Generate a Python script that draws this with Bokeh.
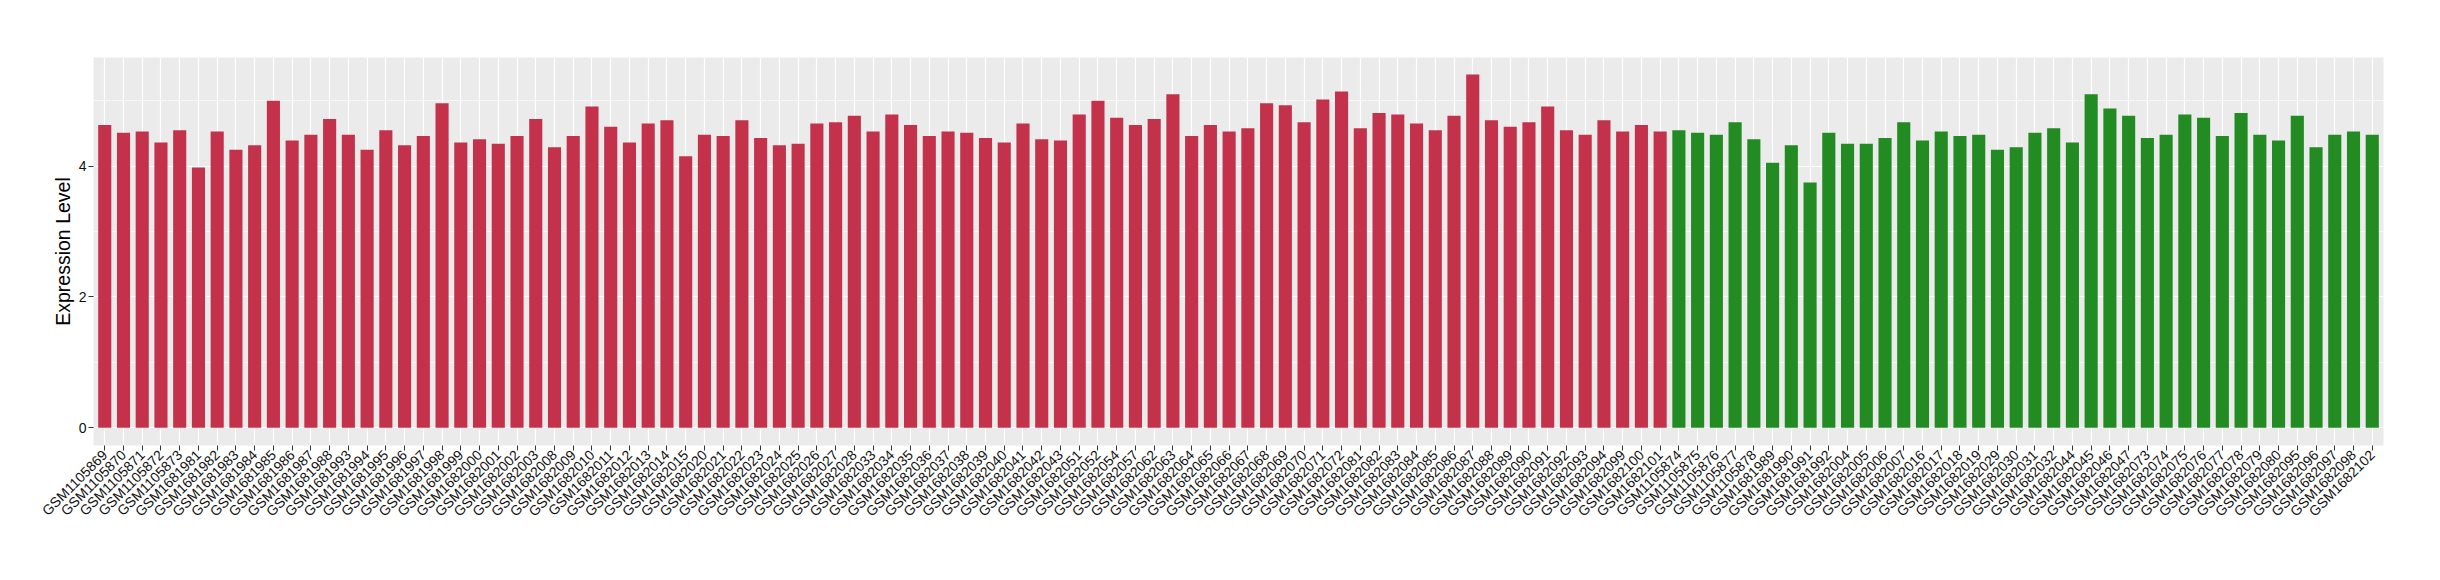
import math
from bokeh.plotting import figure
from bokeh.models import Range1d, FixedTicker, ColumnDataSource
from bokeh.embed import file_html
from bokeh.resources import INLINE

red_samples = [
    "GSM1105869", "GSM1105870", "GSM1105871", "GSM1105872", "GSM1105873",
    "GSM1681981", "GSM1681982", "GSM1681983", "GSM1681984", "GSM1681985",
    "GSM1681986", "GSM1681987", "GSM1681988", "GSM1681993", "GSM1681994",
    "GSM1681995", "GSM1681996", "GSM1681997", "GSM1681998", "GSM1681999",
    "GSM1682000", "GSM1682001", "GSM1682002", "GSM1682003", "GSM1682008",
    "GSM1682009", "GSM1682010", "GSM1682011", "GSM1682012", "GSM1682013",
    "GSM1682014", "GSM1682015", "GSM1682020", "GSM1682021", "GSM1682022",
    "GSM1682023", "GSM1682024", "GSM1682025", "GSM1682026", "GSM1682027",
    "GSM1682028", "GSM1682033", "GSM1682034", "GSM1682035", "GSM1682036",
    "GSM1682037", "GSM1682038", "GSM1682039", "GSM1682040", "GSM1682041",
    "GSM1682042", "GSM1682043", "GSM1682051", "GSM1682052", "GSM1682054",
    "GSM1682057", "GSM1682062", "GSM1682063", "GSM1682064", "GSM1682065",
    "GSM1682066", "GSM1682067", "GSM1682068", "GSM1682069", "GSM1682070",
    "GSM1682071", "GSM1682072", "GSM1682081", "GSM1682082", "GSM1682083",
    "GSM1682084", "GSM1682085", "GSM1682086", "GSM1682087", "GSM1682088",
    "GSM1682089", "GSM1682090", "GSM1682091", "GSM1682092", "GSM1682093",
    "GSM1682094", "GSM1682099", "GSM1682100", "GSM1682101",
]
red_values = [
    4.63, 4.51, 4.53, 4.36, 4.55, 3.98, 4.53, 4.25, 4.32, 5.00,
    4.39, 4.48, 4.72, 4.48, 4.25, 4.55, 4.32, 4.46, 4.96, 4.36,
    4.41, 4.34, 4.46, 4.72, 4.29, 4.46, 4.91, 4.60, 4.36, 4.65,
    4.70, 4.15, 4.48, 4.46, 4.70, 4.43, 4.32, 4.34, 4.65, 4.67,
    4.77, 4.53, 4.79, 4.63, 4.46, 4.53, 4.51, 4.43, 4.36, 4.65,
    4.41, 4.39, 4.79, 5.00, 4.74, 4.63, 4.72, 5.10, 4.46, 4.63,
    4.53, 4.58, 4.96, 4.93, 4.67, 5.02, 5.14, 4.58, 4.81, 4.79,
    4.65, 4.55, 4.77, 5.40, 4.70, 4.60, 4.67, 4.91, 4.55, 4.48,
    4.70, 4.53, 4.63, 4.53,
]

green_samples = [
    "GSM1105874", "GSM1105875", "GSM1105876", "GSM1105877", "GSM1105878",
    "GSM1681989", "GSM1681990", "GSM1681991", "GSM1681992", "GSM1682004",
    "GSM1682005", "GSM1682006", "GSM1682007", "GSM1682016", "GSM1682017",
    "GSM1682018", "GSM1682019", "GSM1682029", "GSM1682030", "GSM1682031",
    "GSM1682032", "GSM1682044", "GSM1682045", "GSM1682046", "GSM1682047",
    "GSM1682073", "GSM1682074", "GSM1682075", "GSM1682076", "GSM1682077",
    "GSM1682078", "GSM1682079", "GSM1682080", "GSM1682095", "GSM1682096",
    "GSM1682097", "GSM1682098", "GSM1682102",
]
green_values = [
    4.55, 4.51, 4.48, 4.67, 4.41, 4.05, 4.32, 3.75, 4.51, 4.34,
    4.34, 4.43, 4.67, 4.39, 4.53, 4.46, 4.48, 4.25, 4.29, 4.51,
    4.58, 4.36, 5.10, 4.88, 4.77, 4.43, 4.48, 4.79, 4.74, 4.46,
    4.81, 4.48, 4.39, 4.77, 4.29, 4.48, 4.53, 4.48,
]

y_ticks = [0, 2, 4]
y_minor = [1, 3, 5]

RED = "#C3324A"
GREEN = "#228B22"
FONT = "Liberation Sans"

samples = red_samples + green_samples
values = red_values + green_values
colors = [RED] * len(red_samples) + [GREEN] * len(green_samples)
xs = list(range(1, len(samples) + 1))

src = ColumnDataSource(dict(x=xs, top=values, color=colors, name=samples))

p = figure(width=2424, height=564, output_backend="svg", toolbar_location=None,
           x_range=Range1d(0.4, len(samples) + 0.6), y_range=Range1d(-0.27, 5.66),
           min_border_left=93, min_border_right=41, min_border_top=57,
           min_border_bottom=119)

p.vbar(x="x", top="top", bottom=0, width=0.7, fill_color="color",
       line_color=None, source=src)

p.background_fill_color = "#EBEBEB"
p.border_fill_color = "white"
p.outline_line_color = None

p.xaxis.ticker = FixedTicker(ticks=xs)
p.xaxis.major_label_overrides = {x: s for x, s in zip(xs, samples)}
p.xaxis.major_label_orientation = math.pi / 4
p.yaxis.ticker = FixedTicker(ticks=y_ticks, minor_ticks=y_minor)

for ax in (p.xaxis, p.yaxis):
    ax.axis_line_color = None
    ax.major_tick_line_color = "#333333"
    ax.major_tick_line_width = 1
    ax.major_tick_out = 5
    ax.major_tick_in = 0
    ax.minor_tick_line_color = None
    ax.major_label_text_font = FONT
    ax.major_label_text_font_size = "14px"
    ax.major_label_text_color = "#111111"
    ax.major_label_standoff = 2

p.yaxis.axis_label = "Expression Level"
p.yaxis.axis_label_text_font = FONT
p.yaxis.axis_label_text_font_size = "19.5px"
p.yaxis.axis_label_text_font_style = "normal"
p.yaxis.axis_label_text_color = "black"
p.yaxis.axis_label_standoff = 2

p.xgrid.grid_line_color = "white"
p.xgrid.grid_line_width = 1.2
p.ygrid.grid_line_color = "white"
p.ygrid.grid_line_width = 1.2
p.ygrid.minor_grid_line_color = "white"
p.ygrid.minor_grid_line_width = 0.6

open("out.html", "w").write(file_html(p, INLINE))
